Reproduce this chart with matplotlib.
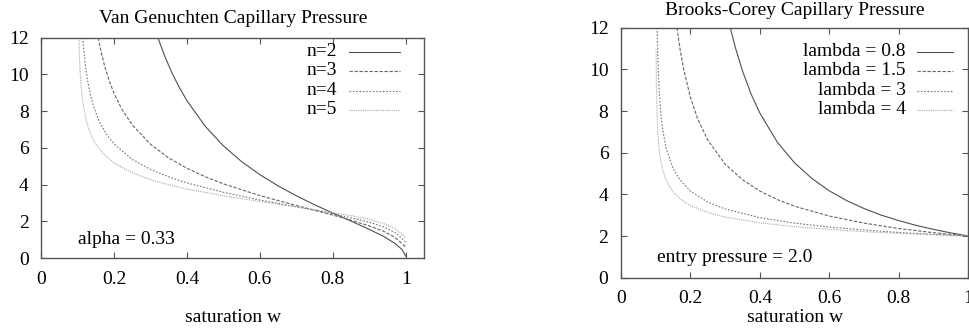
import matplotlib
matplotlib.use("Agg")
import matplotlib.pyplot as plt

plt.rcParams['font.family'] = ['Liberation Serif', 'DejaVu Serif']

#Van Genuchten curves (alpha = 0.33)
vg_labels = ["n=2", "n=3", "n=4", "n=5"]
vg_w2 = [0.3204, 0.34, 0.36, 0.38, 0.4, 0.45, 0.5, 0.55, 0.6, 0.65, 0.7, 0.75, 0.8, 0.85, 0.9, 0.94, 0.97, 0.99, 1.0]
vg_p2 = [12.0, 10.95, 10.04, 9.26, 8.57, 7.18, 6.11, 5.25, 4.54, 3.93, 3.39, 2.90, 2.45, 2.01, 1.56, 1.17, 0.80, 0.46, 0.1]
vg_w3 = [0.1568, 0.165, 0.175, 0.19, 0.2, 0.22, 0.25, 0.3, 0.35, 0.4, 0.45, 0.5, 0.6, 0.7, 0.8, 0.85, 0.9, 0.94, 0.97, 0.99, 1.0]
vg_p3 = [12.0, 11.20, 10.41, 9.48, 8.98, 8.16, 7.25, 6.20, 5.45, 4.89, 4.43, 4.04, 3.40, 2.86, 2.34, 2.06, 1.75, 1.45, 1.13, 0.78, 0.6]
vg_w4 = [0.1144, 0.118, 0.122, 0.127, 0.135, 0.145, 0.16, 0.18, 0.2, 0.25, 0.3, 0.35, 0.4, 0.5, 0.6, 0.7, 0.8, 0.85, 0.9, 0.94, 0.97, 0.99, 1.0]
vg_p4 = [12.0, 11.15, 10.42, 9.73, 8.91, 8.19, 7.42, 6.72, 6.22, 5.37, 4.83, 4.42, 4.09, 3.58, 3.16, 2.79, 2.41, 2.19, 1.95, 1.69, 1.40, 1.06, 0.85]
vg_w5 = [0.1037, 0.105, 0.107, 0.11, 0.114, 0.12, 0.13, 0.14, 0.15, 0.17, 0.2, 0.25, 0.3, 0.35, 0.4, 0.5, 0.6, 0.7, 0.8, 0.85, 0.9, 0.94, 0.97, 0.99, 1.0]
vg_p5 = [12.0, 11.10, 10.20, 9.33, 8.57, 7.84, 7.07, 6.57, 6.21, 5.69, 5.18, 4.64, 4.27, 3.99, 3.76, 3.39, 3.08, 2.79, 2.48, 2.31, 2.10, 1.87, 1.62, 1.29, 1.1]

#Brooks-Corey curves (entry pressure = 2.0)
bc_labels = ["lambda = 0.8", "lambda = 1.5", "lambda = 3", "lambda = 4"]
bc_w1 = [0.3147, 0.33, 0.35, 0.375, 0.4, 0.45, 0.5, 0.55, 0.6, 0.65, 0.7, 0.75, 0.8, 0.85, 0.9, 0.95, 1.0]
bc_p1 = [12.0, 11.01, 9.92, 8.80, 7.90, 6.51, 5.51, 4.76, 4.17, 3.70, 3.32, 3.00, 2.74, 2.51, 2.32, 2.15, 2.0]
bc_w2 = [0.1612, 0.17, 0.18, 0.2, 0.22, 0.25, 0.3, 0.35, 0.4, 0.45, 0.5, 0.6, 0.7, 0.8, 0.9, 1.0]
bc_p2 = [12.0, 10.98, 10.04, 8.65, 7.66, 6.60, 5.45, 4.70, 4.16, 3.75, 3.43, 2.96, 2.62, 2.36, 2.16, 2.0]
bc_w3 = [0.1042, 0.105, 0.107, 0.11, 0.115, 0.12, 0.13, 0.15, 0.17, 0.2, 0.25, 0.3, 0.4, 0.5, 0.6, 0.7, 0.8, 0.9, 1.0]
bc_p3 = [12.0, 11.29, 10.09, 8.96, 7.83, 7.11, 6.21, 5.24, 4.69, 4.16, 3.63, 3.30, 2.88, 2.62, 2.43, 2.29, 2.17, 2.08, 2.0]
bc_w4 = [0.101, 0.102, 0.104, 0.107, 0.11, 0.115, 0.12, 0.13, 0.15, 0.17, 0.2, 0.25, 0.3, 0.4, 0.5, 0.6, 0.7, 0.8, 0.9, 1.0]
bc_p4 = [10.95, 9.21, 7.75, 6.73, 6.16, 5.57, 5.18, 4.68, 4.12, 3.79, 3.46, 3.13, 2.91, 2.63, 2.45, 2.32, 2.21, 2.13, 2.06, 2.0]

x_ticks = [0, 0.2, 0.4, 0.6, 0.8, 1]
x_tick_labels = ["0", "0.2", "0.4", "0.6", "0.8", "1"]
y_ticks = [0, 2, 4, 6, 8, 10, 12]

#gnuplot-like line styles
styles = [
    dict(color="#505050", linestyle="-"),
    dict(color="#666666", linestyle=(0, (3, 1.5))),
    dict(color="#777777", linestyle=(0, (1.5, 1.5))),
    dict(color="#a8a8a8", linestyle=(0, (1, 1))),
]
FS = 14


def style_axes(ax, xmax):
    ax.set_xlim(0, xmax)
    ax.set_ylim(0, 12)
    ax.set_xticks(x_ticks)
    ax.set_xticklabels(x_tick_labels)
    ax.set_yticks(y_ticks)
    ax.tick_params(direction="in", top=True, right=True, length=4, width=0.8,
                   color="#555555", labelsize=FS, pad=9)
    for sp in ax.spines.values():
        sp.set_color("#555555")
        sp.set_linewidth(1.0)


def draw_key(ax, labels, xt, xl0, xl1, rows):
    #keys drawn by hand so the text is right aligned like gnuplot
    for lab, y, st in zip(labels, rows, styles):
        ax.text(xt, y, lab, ha="right", va="center", fontsize=FS, transform=ax.transAxes)
        ax.plot([xl0, xl1], [y, y], transform=ax.transAxes, lw=0.8, clip_on=False, **st)


fig = plt.figure(figsize=(9.7, 3.36), dpi=100)

#Van Genuchten panel
ax1 = fig.add_axes([0.0423, 0.2321, 0.3948, 0.6557])
for w, p, st in zip([vg_w2, vg_w3, vg_w4, vg_w5], [vg_p2, vg_p3, vg_p4, vg_p5], styles):
    ax1.plot(w, p, lw=0.8, **st)
style_axes(ax1, 1.05)
draw_key(ax1, vg_labels, 0.773, 0.804, 0.937, [0.936, 0.849, 0.759, 0.672])
ax1.text(0.096, 0.082, "alpha = 0.33", ha="left", va="center", fontsize=FS, transform=ax1.transAxes)
fig.text(0.240, 0.946, "Van Genuchten Capillary Pressure", ha="center", va="center", fontsize=FS)
fig.text(0.240, 0.0536, "saturation w", ha="center", va="center", fontsize=FS)

#Brooks-Corey panel
ax2 = fig.add_axes([0.6402, 0.1735, 0.358, 0.744])
for w, p, st in zip([bc_w1, bc_w2, bc_w3, bc_w4], [bc_p1, bc_p2, bc_p3, bc_p4], styles):
    ax2.plot(w, p, lw=0.8, **st)
style_axes(ax2, 1.0)
draw_key(ax2, bc_labels, 0.820, 0.852, 0.956, [0.904, 0.827, 0.748, 0.671])
ax2.text(0.103, 0.079, "entry pressure = 2.0", ha="left", va="center", fontsize=FS, transform=ax2.transAxes)
fig.text(0.8196, 0.970, "Brooks-Corey Capillary Pressure", ha="center", va="center", fontsize=FS)
fig.text(0.8196, 0.0536, "saturation w", ha="center", va="center", fontsize=FS)

fig.savefig("out.png", dpi=100)
